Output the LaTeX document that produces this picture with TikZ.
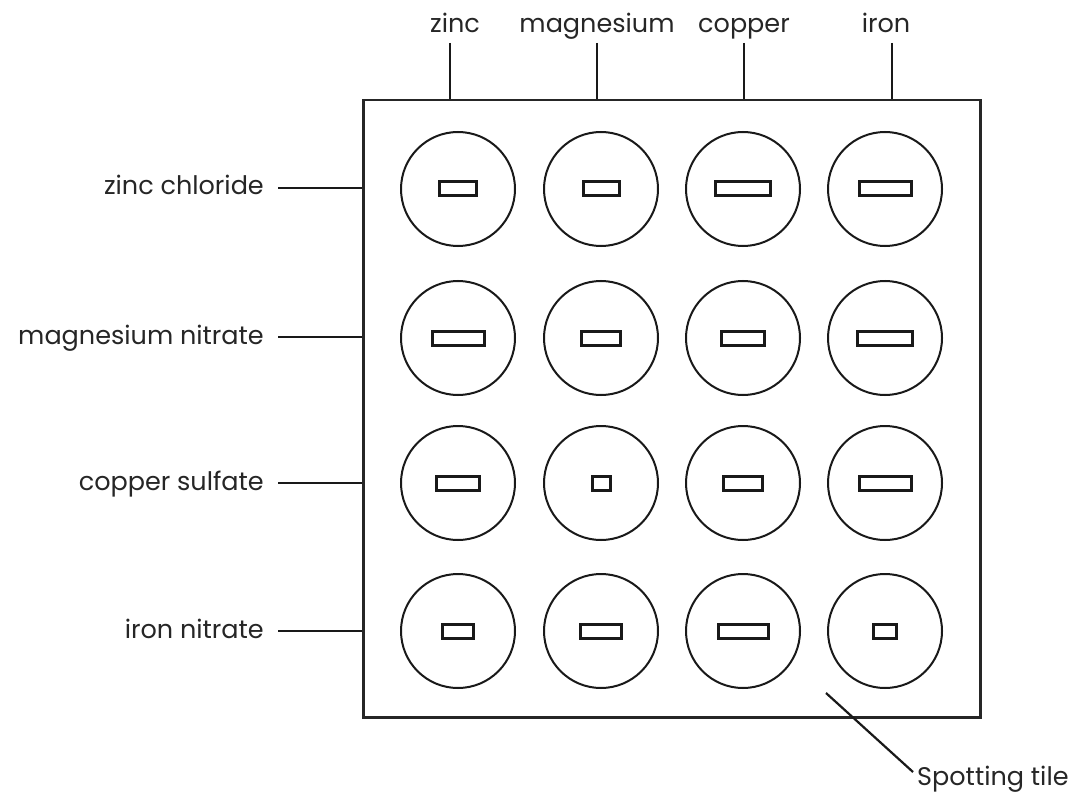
\documentclass[tikz,border=0pt]{standalone}
\usepackage{fontspec}
\setmainfont{Poppins}
\begin{document}
\begin{tikzpicture}[x=1pt,y=-1pt,
  lbl/.style={inner sep=0pt,font=\fontsize{25.5}{30}\selectfont,text=black!85},
  lead/.style={line width=2.2pt,draw=black!90},
  well/.style={circle,draw=black!90,line width=2pt,minimum size=114pt,inner sep=0pt},
  chip/.style={rectangle,draw=black!90,line width=3pt,minimum height=14pt,inner sep=0pt},
  tilebox/.style={rectangle,draw=black!85,line width=2.5pt}]
\useasboundingbox (0,0) rectangle (1083,794);
\fill[white] (0,0) rectangle (1083,794);
% tile
\node[tilebox,minimum width=617pt,minimum height=617pt,anchor=north west] (tile) at (362,99) {};
% wells
\foreach \r/\y in {1/189,2/338,3/483,4/631}{
  \foreach \c/\x in {1/458,2/601,3/743,4/885}{
    \node[well] (w\r\c) at (\x,\y) {};
  }
}
% chips (outer widths)
\foreach \r/\c/\w in {1/1/40,1/2/39,1/3/58,1/4/55,
                      2/1/55,2/2/42,2/3/46,2/4/58,
                      3/1/46,3/2/21,3/3/42,3/4/55,
                      4/1/34,4/2/44,4/3/53,4/4/26}{
  \pgfmathsetmacro{\ww}{\w-3}
  \node[chip,minimum width=\ww pt] (k\r\c) at (w\r\c.center) {};
}
% top labels
\node[lbl,anchor=base] (tzinc) at (455,33) {zinc};
\node[lbl,anchor=base] (tmag) at (597,33) {magnesium};
\node[lbl,anchor=base] (tcop) at (744,33) {copper};
\node[lbl,anchor=base] (tiron) at (886,33) {iron};
\coordinate (pz) at (450,43);
\coordinate (pm) at (597,43);
\coordinate (pc) at (744,43);
\coordinate (pi) at (892,43);
\foreach \p in {pz,pm,pc,pi}{\draw[lead] (\p) -- (\p |- tile.north);}
% left labels
\node[lbl,anchor=base east] (lzc) at (264,195) {zinc chloride};
\node[lbl,anchor=base east] (lmn) at (264,344) {magnesium nitrate};
\node[lbl,anchor=base east] (lcs) at (264,490) {copper sulfate};
\node[lbl,anchor=base east] (lin) at (264,638) {iron nitrate};
\coordinate (q1) at (278,188);
\coordinate (q2) at (278,337);
\coordinate (q3) at (278,483);
\coordinate (q4) at (278,631);
\foreach \q in {q1,q2,q3,q4}{\draw[lead] (\q) -- (\q -| tile.west);}
% spotting tile
\node[lbl,anchor=base west] (lst) at (917,785) {Spotting tile};
\coordinate (sp) at (826,693);
\draw[lead] (sp) -- (913,772);
\end{tikzpicture}
\end{document}
